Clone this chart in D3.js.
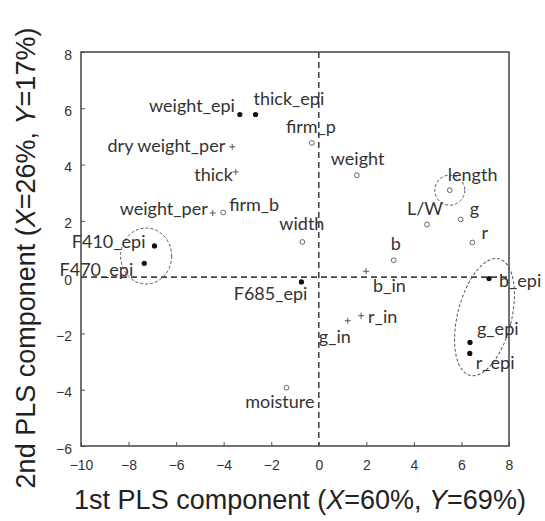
<!DOCTYPE html>
<html>
<head>
<meta charset="utf-8">
<script src="https://cdn.jsdelivr.net/npm/d3@7"></script>
<style>
  body { margin: 0; background: #fff; }
</style>
</head>
<body>
<div id="chart"></div>
<script>
// variable names, loadings on the two PLS components, and marker kind
const names = ["weight_epi", "thick_epi", "firm_p", "dry weight_per", "thick", "weight_per", "firm_b",
               "weight", "length", "L/W", "g", "r", "b", "b_in", "r_in", "g_in",
               "b_epi", "g_epi", "r_epi", "width", "F685_epi", "moisture", "F410_epi", "F470_epi"];
const pc1 = [-3.32, -2.66, -0.29, -3.64, -3.49, -4.46, -4.02,
             1.60, 5.51, 4.55, 5.97, 6.46, 3.15, 1.99, 1.78, 1.22,
             7.16, 6.36, 6.35, -0.69, -0.73, -1.36, -6.91, -7.34];
const pc2 = [5.78, 5.78, 4.77, 4.63, 3.74, 2.28, 2.30,
             3.62, 3.09, 1.87, 2.05, 1.23, 0.60, 0.21, -1.37, -1.55,
             -0.05, -2.32, -2.71, 1.25, -0.17, -3.93, 1.11, 0.49];
const kinds = ["dot", "dot", "open", "plus", "plus", "plus", "open",
               "open", "open", "open", "open", "open", "open", "plus", "plus", "plus",
               "dot", "dot", "dot", "open", "dot", "open", "dot", "dot"];
const xTicks = [-10, -8, -6, -4, -2, 0, 2, 4, 6, 8];
const yTicks = [-6, -4, -2, 0, 2, 4, 6, 8];

// label placement (pixel offsets from the marker)
const labelPos = {
  "weight_epi": [-5, -9, "end"], "thick_epi": [-2, -16, "start"], "firm_p": [-26, -16, "start"],
  "dry weight_per": [-7, -1, "end"], "thick": [-3, 3, "end"], "weight_per": [-5, -4, "end"],
  "firm_b": [6, -8, "start"], "weight": [-26, -17, "start"], "length": [-2, -15, "start"],
  "L/W": [16, -16, "end"], "g": [9, -11, "start"], "r": [9, -10, "start"], "b": [-3, -17, "start"],
  "b_in": [7, 14, "start"], "r_in": [7, 1, "start"], "g_in": [-29, 16, "start"],
  "b_epi": [10, 2, "start"], "g_epi": [7, -14, "start"], "r_epi": [6, 9, "start"],
  "width": [-23, -18, "start"], "F685_epi": [6, 12, "end"], "moisture": [28, 14, "end"],
  "F410_epi": [-9, -4, "end"], "F470_epi": [-11, 6, "end"]
};

const W = 545, H = 521;
const margin = {top: 52, right: 36, bottom: 75, left: 81};
const width = W - margin.left - margin.right,
      height = H - margin.top - margin.bottom;

const svg = d3.select("#chart").append("svg")
    .attr("width", W).attr("height", H);
const g = svg.append("g")
    .attr("transform", "translate(" + margin.left + "," + margin.top + ")");

const x = d3.scaleLinear().domain([-10, 8]).range([0, width]);
const y = d3.scaleLinear().domain([-6, 8]).range([height, 0]);

const axisColor = "#555";
const tickFont = "14px 'Liberation Sans', Arial, sans-serif";

// zero lines
g.append("line")
    .attr("x1", x(0)).attr("x2", x(0)).attr("y1", 0).attr("y2", height)
    .attr("stroke", "#444").attr("stroke-width", 1.6).attr("stroke-dasharray", "6,4");
g.append("line")
    .attr("x1", 0).attr("x2", width).attr("y1", y(0)).attr("y2", y(0))
    .attr("stroke", "#444").attr("stroke-width", 1.6).attr("stroke-dasharray", "6,4");

// axes with inward ticks
const xAxis = g.append("g")
    .attr("transform", "translate(0," + height + ")")
    .call(d3.axisBottom(x).tickValues(xTicks).tickSizeInner(-4).tickSizeOuter(0).tickPadding(14));
const yAxis = g.append("g")
    .call(d3.axisLeft(y).tickValues(yTicks).tickSizeInner(-4).tickSizeOuter(0).tickPadding(9));
[xAxis, yAxis].forEach(a => {
  a.select(".domain").remove();
  a.selectAll("line").attr("stroke", axisColor);
  a.selectAll("text").style("font", tickFont).attr("fill", "#333");
});
yAxis.selectAll("text").attr("dy", "0.5em");

// frame
g.append("rect")
    .attr("width", width).attr("height", height)
    .attr("fill", "none").attr("stroke", "#444").attr("stroke-width", 1.5);

// grouping ellipses
const ell = g.append("g").attr("fill", "none").attr("stroke", "#555")
    .attr("stroke-width", 1).attr("stroke-dasharray", "3,2");
ell.append("ellipse")
    .attr("cx", x(-7.26)).attr("cy", y(0.75)).attr("rx", 25.5).attr("ry", 28);
ell.append("ellipse")
    .attr("transform", "translate(" + x(6.97) + "," + y(-1.42) + ") rotate(14)")
    .attr("rx", 27).attr("ry", 60);
ell.append("circle")
    .attr("cx", x(pc1[8])).attr("cy", y(pc2[8])).attr("r", 15);

// markers
const pts = names.map((n, i) => ({name: n, x: pc1[i], y: pc2[i], kind: kinds[i]}));
pts.forEach(d => {
  const px = x(d.x), py = y(d.y);
  if (d.kind === "dot") {
    g.append("circle").attr("cx", px).attr("cy", py).attr("r", 2.6).attr("fill", "#111");
  } else if (d.kind === "open") {
    g.append("circle").attr("cx", px).attr("cy", py).attr("r", 2.4)
        .attr("fill", "#fff").attr("stroke", "#666").attr("stroke-width", 1);
  } else {
    g.append("path").attr("d", `M${px-3},${py}H${px+3}M${px},${py-3}V${py+3}`)
        .attr("stroke", "#555").attr("stroke-width", 1);
  }
  const lp = labelPos[d.name];
  g.append("text")
      .attr("x", px + lp[0]).attr("y", py + lp[1])
      .attr("dy", "0.35em")
      .attr("text-anchor", lp[2])
      .style("font", "18px Lato, 'Open Sans', sans-serif")
      .attr("fill", "#333")
      .text(d.name);
});

// axis titles
const titleFont = "27px 'Liberation Sans', Arial, sans-serif";
const xt = svg.append("text")
    .attr("x", 300).attr("y", 509)
    .attr("text-anchor", "middle")
    .style("font", titleFont).attr("fill", "#222");
xt.append("tspan").text("1st PLS component (");
xt.append("tspan").style("font-style", "italic").text("X");
xt.append("tspan").text("=60%, ");
xt.append("tspan").style("font-style", "italic").text("Y");
xt.append("tspan").text("=69%)");

const yt = svg.append("text")
    .attr("transform", "translate(35,258) rotate(-90)")
    .attr("text-anchor", "middle")
    .style("font", titleFont).attr("fill", "#222");
yt.append("tspan").text("2nd PLS component (");
yt.append("tspan").style("font-style", "italic").text("X");
yt.append("tspan").text("=26%, ");
yt.append("tspan").style("font-style", "italic").text("Y");
yt.append("tspan").text("=17%)");
</script>
</body>
</html>
